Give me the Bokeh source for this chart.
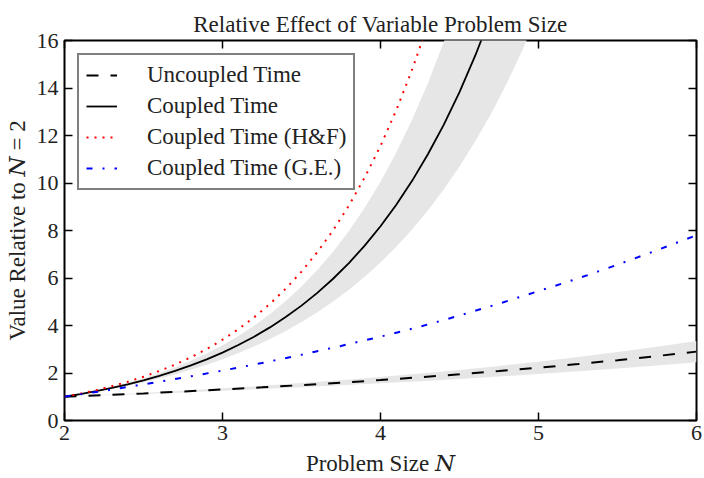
from bokeh.plotting import figure
from bokeh.models import Range1d, LinearAxis, Legend, LegendItem, FixedTicker
from bokeh.embed import file_html
from bokeh.resources import INLINE

# ---- data: run time relative to the N = 2 case ----
n_full = [2.0, 2.25, 2.5, 2.75, 3.0, 3.25, 3.5, 3.75, 4.0,
          4.25, 4.5, 4.75, 5.0, 5.25, 5.5, 5.75, 6.0]
uncoupled = [1.000, 1.069, 1.142, 1.221, 1.305, 1.395, 1.491, 1.593, 1.703,
             1.820, 1.946, 2.080, 2.222, 2.375, 2.539, 2.714, 2.900]
uncoupled_hi = [1.000, 1.079, 1.163, 1.254, 1.353, 1.459, 1.574, 1.697, 1.831,
                1.974, 2.129, 2.296, 2.477, 2.671, 2.881, 3.107, 3.351]
uncoupled_lo = [1.000, 1.058, 1.118, 1.183, 1.251, 1.323, 1.399, 1.480, 1.565,
                1.655, 1.750, 1.851, 1.958, 2.070, 2.190, 2.315, 2.449]
coupled_ge = [1.00, 1.25, 1.52, 1.80, 2.10, 2.42, 2.77, 3.14, 3.53,
              3.95, 4.42, 4.92, 5.45, 5.98, 6.56, 7.17, 7.80]

# the coupled curves climb out of the 0-16 window early; finer sampling in N
n_fine = [2.0, 2.1, 2.2, 2.3, 2.4, 2.5, 2.6, 2.7, 2.8, 2.9, 3.0,
          3.1, 3.2, 3.3, 3.4, 3.5, 3.6, 3.7, 3.8, 3.9, 4.0,
          4.1, 4.2, 4.3, 4.4, 4.5, 4.6, 4.7, 4.8, 4.9, 5.0]
coupled = [1.000, 1.111, 1.234, 1.371, 1.522, 1.691, 1.879, 2.087, 2.318,
           2.575, 2.860, 3.177, 3.529, 3.920, 4.354, 4.837, 5.373, 5.968,
           6.629, 7.364, 8.180, 9.086, 10.09, 11.21, 12.45, 13.83, 15.37,
           17.07]
coupled_hf = [1.000, 1.130, 1.277, 1.444, 1.632, 1.844, 2.084, 2.356, 2.662,
              3.009, 3.401, 3.843, 4.344, 4.909, 5.549, 6.271, 7.087, 8.010,
              9.053, 10.23, 11.56, 13.07, 14.77, 16.69]
coupled_hi = [1.000, 1.122, 1.260, 1.414, 1.586, 1.780, 1.998, 2.243, 2.517,
              2.825, 3.170, 3.558, 3.993, 4.481, 5.029, 5.644, 6.334, 7.108,
              7.978, 8.953, 10.05, 11.28, 12.66, 14.20, 15.94, 17.89]
coupled_lo = [1.000, 1.099, 1.209, 1.329, 1.461, 1.606, 1.766, 1.942, 2.135,
              2.347, 2.580, 2.837, 3.119, 3.429, 3.769, 4.144, 4.556, 5.009,
              5.507, 6.055, 6.657, 7.318, 8.046, 8.846, 9.725, 10.69, 11.76,
              12.92, 14.21, 15.62, 17.17]

x_ticks = [2, 3, 4, 5, 6]
y_ticks = [0, 2, 4, 6, 8, 10, 12, 14, 16]

FONT = "Liberation Serif"
LABEL_FONT = "Liberation Serif, DejaVu Serif"
INK = "#222222"
BAND = "#e6e6e6"
TEXT_SIZE = "23px"
TICK_SIZE = "22px"

p = figure(width=704, height=478, output_backend="svg", toolbar_location=None,
           x_range=Range1d(2, 6), y_range=Range1d(0, 16),
           min_border_left=64, min_border_right=8,
           min_border_top=40, min_border_bottom=58,
           x_axis_location=None, y_axis_location=None)
p.grid.visible = False
p.outline_line_color = "black"
p.outline_line_width = 2
p.background_fill_color = "white"
p.border_fill_color = "white"

p.title.text = "Relative Effect of Variable Problem Size"
p.title.align = "center"
p.title.offset = 2
p.title.standoff = 8
p.title.text_font = FONT
p.title.text_font_size = TEXT_SIZE
p.title.text_font_style = "normal"
p.title.text_color = INK


def make_axis(ticks, show_labels, standoff):
    ax = LinearAxis(ticker=FixedTicker(ticks=ticks))
    ax.axis_line_color = None
    ax.major_tick_in = 8
    ax.major_tick_out = 0
    ax.major_tick_line_width = 1.5
    ax.major_tick_line_color = "black"
    ax.minor_tick_line_color = None
    ax.major_label_standoff = standoff
    ax.major_label_text_font = FONT
    ax.major_label_text_color = INK
    ax.axis_label_text_font = LABEL_FONT
    ax.axis_label_text_font_size = TEXT_SIZE
    ax.axis_label_text_font_style = "normal"
    ax.axis_label_text_color = INK
    if show_labels:
        ax.major_label_text_font_size = TICK_SIZE
    else:
        ax.major_label_text_font_size = "0px"
        ax.major_label_text_alpha = 0
    return ax


x_axis = make_axis(x_ticks, True, 5)
x_axis.axis_label = "Problem Size \U0001D441"
x_axis.axis_label_standoff = 8
y_axis = make_axis(y_ticks, True, 6)
y_axis.axis_label = "Value Relative to \U0001D441 = 2"
y_axis.axis_label_standoff = 4
p.add_layout(x_axis, "below")
p.add_layout(y_axis, "left")
p.add_layout(make_axis(x_ticks, False, 0), "above")
p.add_layout(make_axis(y_ticks, False, 0), "right")

# uncertainty bands
p.varea(x=n_full, y1=uncoupled_lo, y2=uncoupled_hi, fill_color=BAND)
n_hi = n_fine[:len(coupled_hi)]
n_lo = n_fine[:len(coupled_lo)]
p.patch(x=n_hi + n_lo[::-1], y=coupled_hi + coupled_lo[::-1],
        fill_color=BAND, line_color=None)

r_unc = p.line(n_full, uncoupled, line_color="black", line_width=2,
               line_dash="12 12")
r_cpl = p.line(n_fine[:len(coupled)], coupled, line_color="black",
               line_width=1.8)
r_hf = p.line(n_fine[:len(coupled_hf)], coupled_hf, line_color="#ff0000",
              line_width=2, line_dash="2 6")
r_ge = p.line(n_full, coupled_ge, line_color="#0000ff", line_width=2,
              line_dash="6 10 2 10")

legend = Legend(items=[
    LegendItem(label="Uncoupled Time", renderers=[r_unc]),
    LegendItem(label="Coupled Time", renderers=[r_cpl]),
    LegendItem(label="Coupled Time (H&F)", renderers=[r_hf]),
    LegendItem(label="Coupled Time (G.E.)", renderers=[r_ge]),
], location="top_left")
legend.margin = 13
legend.padding = 7
legend.spacing = 5
legend.glyph_width = 31
legend.glyph_height = 26
legend.label_standoff = 30
legend.label_text_font = FONT
legend.label_text_font_size = TEXT_SIZE
legend.label_text_color = INK
legend.border_line_color = "black"
legend.border_line_width = 2
legend.background_fill_color = "white"
legend.background_fill_alpha = 1
p.add_layout(legend)

open("out.html", "w").write(file_html(p, INLINE))
